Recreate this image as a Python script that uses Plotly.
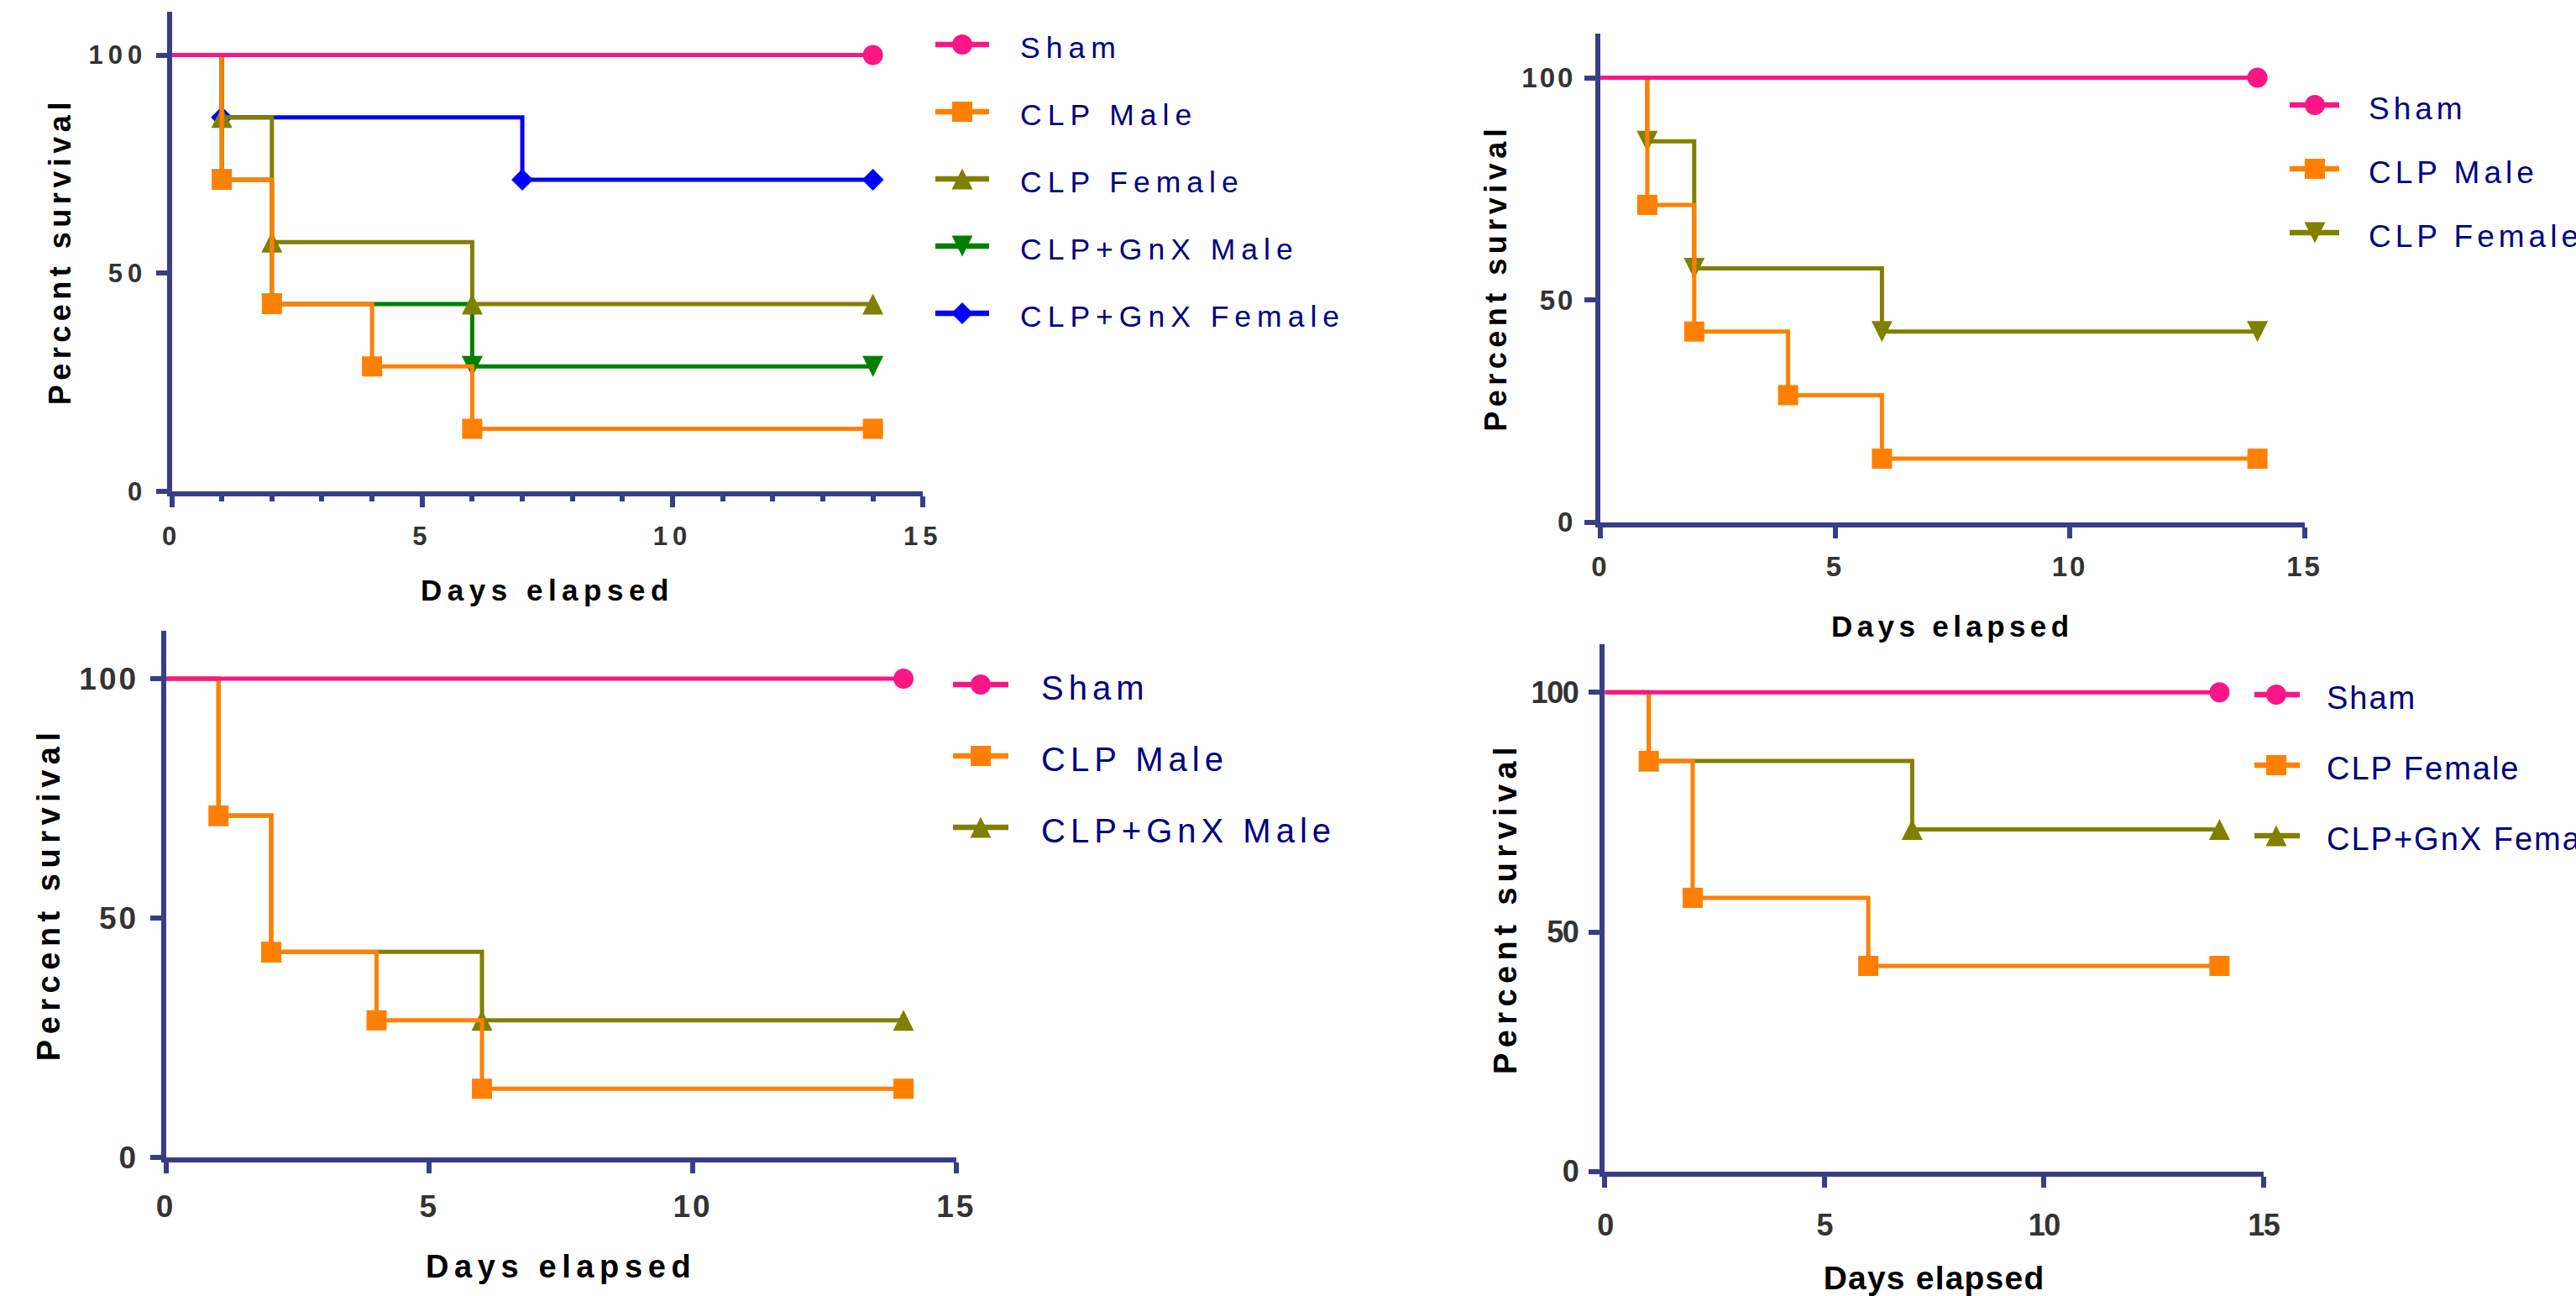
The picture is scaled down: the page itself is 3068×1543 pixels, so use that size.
import json
import plotly.graph_objects as go

W, H = 3068, 1543

# ---------------- data (Kaplan-Meier steps, % survival) ----------------
sham_days = [0, 14]
sham_surv = [100, 100]
clp_male_days = [0, 1, 2, 4, 6, 14]
clp_male_surv = [100, 71.4, 42.9, 28.6, 14.3, 14.3]
clp_female_days = [0, 1, 2, 6, 14]
clp_female_surv = [100, 85.7, 57.1, 42.9, 42.9]
gnx_male_days = [0, 1, 2, 6, 14]
gnx_male_surv = [100, 71.4, 42.9, 28.6, 28.6]
gnx_female_days = [0, 1, 7, 14]
gnx_female_surv = [100, 85.7, 71.4, 71.4]

x_tick_vals = [0, 5, 10, 15]
y_tick_vals = [0, 50, 100]
x_title = "Days elapsed"
y_title = "Percent survival"

panel1_groups = ["Sham", "CLP Male", "CLP Female", "CLP+GnX Male", "CLP+GnX Female"]
panel2_groups = ["Sham", "CLP Male", "CLP Female"]
panel3_groups = ["Sham", "CLP Male", "CLP+GnX Male"]
panel4_groups = ["Sham", "CLP Female", "CLP+GnX Female"]

SERIES = {
    "Sham": (sham_days, sham_surv),
    "CLP Male": (clp_male_days, clp_male_surv),
    "CLP Female": (clp_female_days, clp_female_surv),
    "CLP+GnX Male": (gnx_male_days, gnx_male_surv),
    "CLP+GnX Female": (gnx_female_days, gnx_female_surv),
}

# ---------------- styles ----------------
FONT = "Liberation Sans, Arial, Helvetica, sans-serif"
AXIS_C = "#393D86"
TICK_C = "#333333"
LEG_C = "#000080"
PINK, ORANGE, OLIVE, GREEN, BLUE = "#FA1685", "#FF8000", "#808000", "#008000", "#0000FF"

MSIZE = {"circle": 24, "square": 24, "tri-up": 25, "tri-down": 25, "diamond": 20}


def marker_shape(kind, size):
    if kind == "tri-up":
        return dict(symbol="arrow-down", angle=180, standoff=size / 2)
    if kind == "tri-down":
        return dict(symbol="arrow-down", angle=0, standoff=size / 2)
    return dict(symbol=kind)


PANELS = [
    dict(groups=panel1_groups,
         styles=[(PINK, "circle"), (ORANGE, "square"), (OLIVE, "tri-up"), (GREEN, "tri-down"), (BLUE, "diamond")],
         box=(204.5, 1099.3, 13.6, 584.8), minor=True,
         tick_fs=31, tick_ls=6, xt_fs=35, xt_ls=6.5, yt_fs=36, yt_ls=5.5,
         ytl_so=4, xtl_so=8, xt_so=37, yt_so=30,
         leg=dict(row0=53, step=80, line=(1114, 1178), mark=1146, text=1215, fs=35.5, ls=7)),
    dict(groups=panel2_groups,
         styles=[(PINK, "circle"), (ORANGE, "square"), (OLIVE, "tri-down")],
         box=(1906, 2744.5, 39.6, 621.8), minor=False,
         tick_fs=33, tick_ls=3, xt_fs=35, xt_ls=5.4, yt_fs=36, yt_ls=5.5,
         ytl_so=4, xtl_so=6, xt_so=43, yt_so=18,
         leg=dict(row0=125, step=76, line=(2727, 2786), mark=2757, text=2821, fs=37, ls=5)),
    dict(groups=panel3_groups,
         styles=[(PINK, "circle"), (ORANGE, "square"), (OLIVE, "tri-up")],
         box=(197.5, 1138.8, 751.0, 1377.7), minor=False,
         tick_fs=37, tick_ls=3, xt_fs=38, xt_ls=6.6, yt_fs=38, yt_ls=6.5,
         ytl_so=6, xtl_so=8, xt_so=40, yt_so=22,
         leg=dict(row0=815, step=85, line=(1135, 1201), mark=1168, text=1240, fs=40, ls=6)),
    dict(groups=panel4_groups,
         styles=[(PINK, "circle"), (ORANGE, "square"), (OLIVE, "tri-up")],
         box=(1911.4, 2695.7, 767.3, 1394.7), minor=False,
         tick_fs=36, tick_ls=-1.5, xt_fs=39, xt_ls=1.2, yt_fs=38, yt_ls=6.4,
         ytl_so=6, xtl_so=14, xt_so=33, yt_so=3,
         leg=dict(row0=827, step=84, line=(2685, 2739), mark=2711, text=2771, fs=38, ls=2)),
]

fig = go.Figure()
layout = dict(width=W, height=H, margin=dict(l=0, r=0, t=0, b=0),
              paper_bgcolor="white", plot_bgcolor="rgba(0,0,0,0)",
              showlegend=False, template="none")
ls_rules = []

for i, p in enumerate(PANELS):
    n = i + 1
    sfx = "" if n == 1 else str(n)
    xa, ya = "x" + sfx, "y" + sfx
    x0, x1, ytop, ybot = p["box"]

    # survival curves, first group drawn on top
    for name, (color, kind) in reversed(list(zip(p["groups"], p["styles"]))):
        days, surv = SERIES[name]
        s = MSIZE[kind]
        mk = marker_shape(kind, s)
        fig.add_trace(go.Scatter(
            x=days, y=surv, name=name, mode="lines+markers", line_shape="hv",
            line=dict(color=color, width=5),
            marker=dict(color=color, size=[0] + [s] * (len(days) - 1), opacity=1,
                        line=dict(width=0), **mk),
            xaxis=xa, yaxis=ya, hoverinfo="skip", cliponaxis=False))

    common = dict(showline=True, linecolor=AXIS_C, linewidth=6, ticks="outside",
                  tickcolor=AXIS_C, tickwidth=6, ticklen=13, showgrid=False, zeroline=False,
                  fixedrange=True,
                  tickfont=dict(family=FONT, size=p["tick_fs"], color=TICK_C, weight="bold"))
    xax = dict(common, domain=[x0 / W, x1 / W], range=[0, 15], tickmode="array",
               tickvals=x_tick_vals, anchor=ya, ticklabelstandoff=p["xtl_so"],
               title=dict(text=x_title, standoff=p["xt_so"],
                          font=dict(family=FONT, size=p["xt_fs"], color="black", weight="bold")))
    if p["minor"]:
        xax["minor"] = dict(dtick=1, tick0=0, ticks="outside", ticklen=6, tickwidth=6,
                            tickcolor=AXIS_C, showgrid=False)
    yax = dict(common, domain=[1 - ybot / H, 1 - ytop / H], range=[0, 110], tickmode="array",
               tickvals=y_tick_vals, anchor=xa, ticklabelstandoff=p["ytl_so"],
               title=dict(text=y_title, standoff=p["yt_so"],
                          font=dict(family=FONT, size=p["yt_fs"], color="black", weight="bold")))
    layout["xaxis" + sfx] = xax
    layout["yaxis" + sfx] = yax

    # legend drawn on an overlay axis whose units are figure pixels
    ln = n + 4
    lxa, lya = "x%d" % ln, "y%d" % ln
    layout["xaxis%d" % ln] = dict(domain=[0, 1], range=[0, W], visible=False, fixedrange=True, anchor=lya)
    layout["yaxis%d" % ln] = dict(domain=[0, 1], range=[H, 0], visible=False, fixedrange=True, anchor=lxa)
    lg = p["leg"]
    for k, (name, (color, kind)) in enumerate(zip(p["groups"], p["styles"])):
        row = lg["row0"] + k * lg["step"]
        fig.add_trace(go.Scatter(x=list(lg["line"]), y=[row, row], mode="lines",
                                 line=dict(color=color, width=6.5), xaxis=lxa, yaxis=lya,
                                 hoverinfo="skip"))
        s = MSIZE[kind]
        fig.add_trace(go.Scatter(x=[lg["mark"]], y=[row], mode="markers",
                                 marker=dict(color=color, size=s, opacity=1, line=dict(width=0),
                                             **marker_shape(kind, s)),
                                 xaxis=lxa, yaxis=lya, hoverinfo="skip"))
        fig.add_trace(go.Scatter(x=[lg["text"]], y=[row + 3.5 + 0.108 * lg["fs"]], mode="text",
                                 text=[name], textposition="middle right",
                                 textfont=dict(family=FONT, size=lg["fs"], color=LEG_C),
                                 xaxis=lxa, yaxis=lya, hoverinfo="skip"))

    ls_rules += [
        ["g.%stick text, g.%stick text" % (xa, ya), p["tick_ls"]],
        ["text.%stitle" % xa, p["xt_ls"]],
        ["text.%stitle" % ya, p["yt_ls"]],
        [".subplot.%s%s .textpoint text" % (lxa, lya), lg["ls"]],
    ]

fig.update_layout(**layout)

post = ("document.documentElement.style.margin='0';document.body.style.margin='0';"
        "document.body.style.overflow='hidden';"
        "var gd=document.getElementById('{plot_id}');var R=" + json.dumps(ls_rules) + ";"
        "function ls(){R.forEach(function(r){gd.querySelectorAll(r[0]).forEach(function(e){"
        "e.style.letterSpacing=r[1]+'px';});});}"
        "ls();setTimeout(ls,100);setTimeout(ls,600);if(gd.on){gd.on('plotly_afterplot',ls);}")

fig.write_html("out.html", post_script=post, config={"displayModeBar": False, "staticPlot": True})
